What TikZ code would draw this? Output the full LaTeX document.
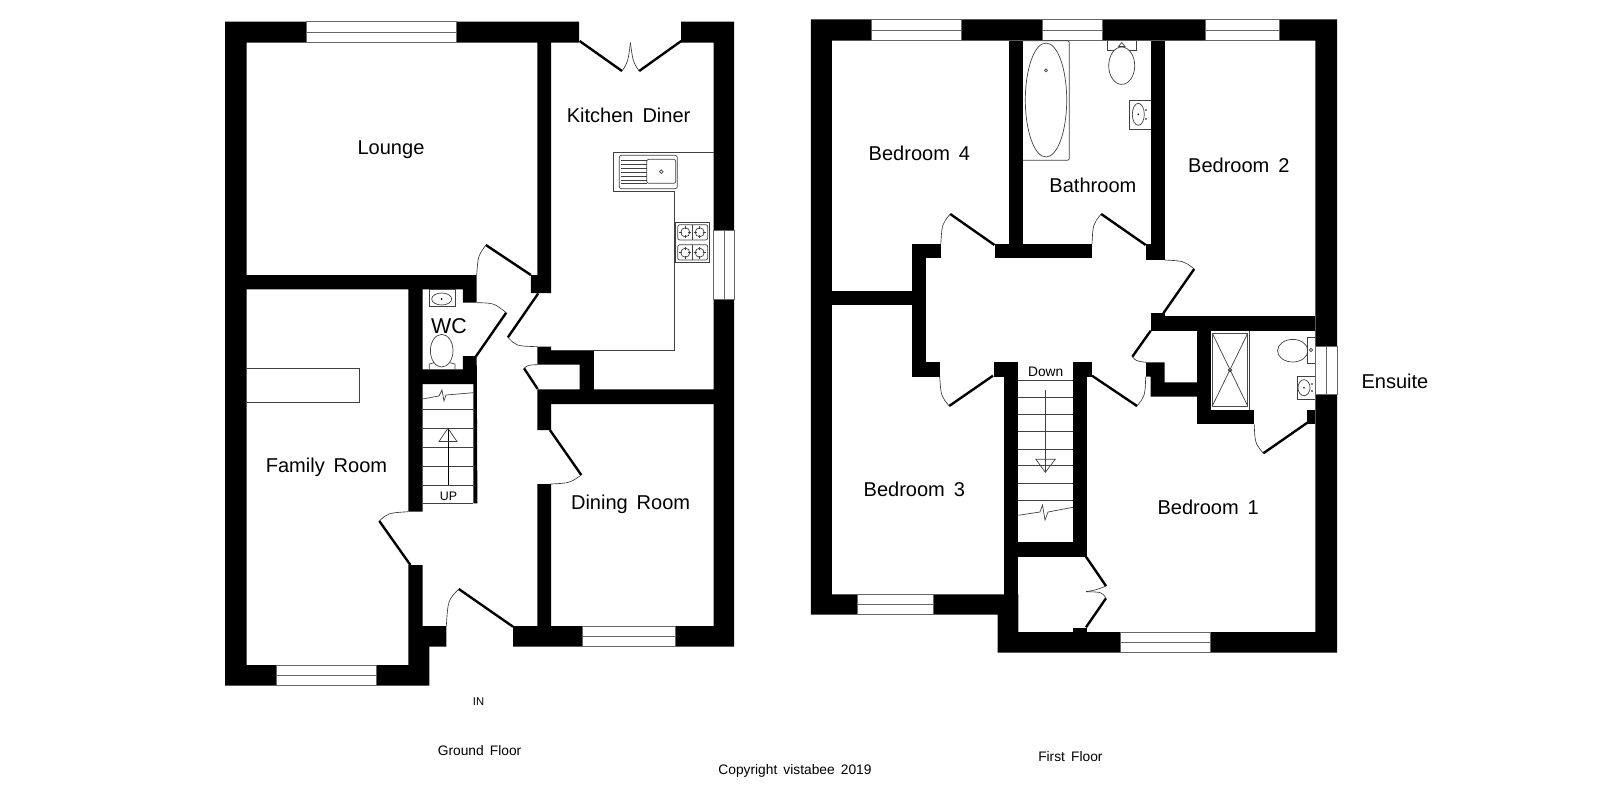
\documentclass[tikz,border=0pt]{standalone}
\usepackage{fontspec}
\setmainfont{Liberation Sans}[WordSpace=1.6]
\tikzset{
  wall/.style={fill=black},
  thinline/.style={draw=black!75, line width=1pt},
  windowbox/.style={fill=white, draw=black!60, line width=1pt},
  doorleaf/.style={draw=black, line width=3.4pt},
  doorswing/.style={draw=black!80, line width=0.9pt},
  roomlabel/.style={inner sep=0pt, font=\fontsize{28.5}{30}\selectfont},
  smalllabel/.style={inner sep=0pt, font=\fontsize{19.6}{22}\selectfont}
}
\begin{document}
\begin{tikzpicture}[x=0.05cm, y=-0.05cm]
            \useasboundingbox (0,0) rectangle (1600,800);

            % Ground floor walls
            \fill[wall] (225.2,21.7) -- (579,21.7) -- (579,42.7) -- (551.2,42.7) -- (551.2,293) -- (530.9,293) -- (530.9,275) -- (537.3,275) -- (537.3,42.7) -- (246.6,42.7) -- (246.6,275) -- (476.7,275) -- (476.7,302.7) -- (462.9,302.7) -- (462.9,289.3) -- (422.6,289.3) -- (422.6,369.3) -- (462.9,369.3) -- (462.9,356) -- (476.7,356) -- (477.4,503.3) -- (473.4,503.3) -- (473.4,384) -- (422.6,384) -- (422.6,511.7) -- (408.4,511.7) -- (408.4,289.3) -- (246.6,289.3) -- (246.6,665) -- (408.4,665) -- (408.4,565) -- (422.6,565) -- (422.6,626) -- (446.3,626) -- (446.3,646.7) -- (429.4,646.7) -- (429.4,685.7) -- (225.2,685.7) -- cycle;
            \fill[wall] (681.2,21.7) -- (734,21.7) -- (734,646.7) -- (513,646.7) -- (513,626) -- (537.3,626) -- (537.3,484) -- (551.2,484) -- (551.2,626) -- (713.7,626) -- (713.7,404) -- (551.2,404) -- (551.2,430) -- (537.3,430) -- (537.3,389.3) -- (579.6,389.3) -- (579.6,364.7) -- (537.3,364.7) -- (537.3,346.7) -- (551.2,346.7) -- (551.2,350.5) -- (593.9,350.5) -- (593.9,389.3) -- (713.7,389.3) -- (713.7,42.7) -- (681.2,42.7) -- cycle;

            % First floor walls
            \fill[wall, even odd rule] (810.9,19.3) -- (1337,19.3) -- (1337,652.7) -- (997.6,652.7) -- (997.6,614.7) -- (810.9,614.7) -- cycle
                (831.9,40.7) -- (1315.3,40.7) -- (1315.3,632) -- (1018.3,632) -- (1018.3,594.3) -- (831.9,594.3) -- cycle;
            \foreach \xa/\ya/\xb/\yb in {1009.2/40.7/1023.2/258.3, 994.5/244/1092/258.3, 1151/40.7/1165/260, 1145.7/244/1165/260,
                912.3/244/940.8/258.3, 912.3/244/926.4/376.7, 912.3/362.3/939.7/376.7, 831.9/291/912.3/305.3,
                993.8/362.3/1018.3/376.7, 1004.3/362.3/1018.3/632, 1073/362.3/1092/376.7, 1073/362.3/1087/556.7,
                1004.3/542/1087/556.7, 1073/627.7/1087/632, 1151/316/1315.3/330.7, 1151/313.3/1165/316,
                1197.3/330/1211.4/424.3, 1197.3/410/1254.2/424.3, 1307.3/410/1315.3/424}
                \fill[wall] (\xa,\ya) rectangle (\xb,\yb);
            \fill[wall] (1146,362.3) -- (1164.5,362.3) -- (1164.5,382.3) -- (1197.3,382.3) -- (1197.3,396.7) -- (1150.7,396.7) -- (1150.7,376.7) -- (1146,376.7) -- cycle;

            % Windows
            \foreach \xa/\ya/\xb/\yb in {306.1/21.7/456.4/42.7, 276/665/376.2/685.7, 582/626/675/646.7,
                870.9/19.3/961.1/40.7, 1042.2/19.3/1102.6/40.7, 1205.4/19.3/1279.5/40.7, 856.9/594.3/933/614.7, 1120.8/632/1210.7/652.7}{
                \draw[windowbox] (\xa,\ya) rectangle (\xb,\yb);
                \draw[windowbox] (\xa,{(\ya+\yb)/2}) -- (\xb,{(\ya+\yb)/2});
            }
            \foreach \xa/\ya/\xb/\yb in {713.7/230.7/734/299.3, 1315.7/346.7/1337/394}{
                \draw[windowbox] (\xa,\ya) rectangle (\xb,\yb);
                \draw[windowbox] ({(\xa+\xb)/2},\ya) -- ({(\xa+\xb)/2},\yb);
            }

            % Door leaves
            \foreach \xa/\ya/\xb/\yb in {530.9/275/485.9/245, 475.7/356.7/506.2/312.7, 538.3/293.3/507.9/337.3, 537.7/389/524/368.3,
                549.9/430/581.3/475, 410.4/565/379.3/521, 513/626.7/458.8/589, 579.6/41/622/71, 681.2/41/639.2/71,
                994.5/245/950.2/214, 1145.7/245/1101.2/214, 1163.3/313.3/1194.2/269, 1150.7/330.7/1132.3/356.7,
                1092/375.7/1137/406, 993/375.7/949.2/406, 1307.3/422.7/1263.3/453.3, 1086/556.7/1106/586, 1086/627.3/1106/598.3}
                \draw[doorleaf] (\xa,\ya) -- (\xb,\yb);

            % Door swings
            \draw[doorswing] (485.9,245) .. controls (478,256) .. (476.7,275);
            \draw[doorswing] (506.2,312.7) .. controls (494,303) .. (476.7,302.7);
            \draw[doorswing] (507.9,337.3) .. controls (516,346) .. (537.3,346.7);
            \draw[doorswing] (524,368.3) .. controls (528,365) .. (537.3,364.7);
            \draw[doorswing] (581.3,475) .. controls (570,483) .. (551.2,484);
            \draw[doorswing] (379.3,521) .. controls (388,513) .. (408.4,511.7);
            \draw[doorswing] (458.8,589) .. controls (448,600) .. (446.3,626);
            \draw[doorswing] (622,71) .. controls (628,62) .. (630.4,42.7);
            \draw[doorswing] (639.2,71) .. controls (633,62) .. (630.4,42.7);
            \draw[doorswing] (950.2,214) .. controls (942,224) .. (940.8,244);
            \draw[doorswing] (1101.2,214) .. controls (1093,224) .. (1092,244);
            \draw[doorswing] (1194.2,269) .. controls (1184,261) .. (1165,260);
            \draw[doorswing] (1132.3,356.7) .. controls (1136,361) .. (1146,362.3);
            \draw[doorswing] (1137,406) .. controls (1145,396) .. (1145.7,376.7);
            \draw[doorswing] (949.2,406) .. controls (941,396) .. (939.7,376.7);
            \draw[doorswing] (1263.3,453.3) .. controls (1255,443) .. (1254.2,424.3);
            \draw[doorswing] (1106,586) .. controls (1096,590) .. (1086,591.7);
            \draw[doorswing] (1106,598.3) .. controls (1102,592) .. (1086,591.7);

            % Stairs, ground floor
            \foreach \ty in {409.3,428.3,447.3,466,485.3,503.3}
                \draw[thinline] (422.6,\ty) -- (473.4,\ty);
            \draw[thinline] (422.6,399) -- (439,396) -- (442,390) -- (444,401) -- (446,395) -- (473.4,392.7);
            \draw[thinline, draw=black] (447.9,485.3) -- (447.9,428.3);
            \draw[thinline] (447.9,428.3) -- (439,441.5) -- (457,441.5) -- cycle;
            \node[inner sep=0pt, font=\fontsize{17.6}{18}\selectfont] (up) at (448.5,496) {UP};

            % Stairs, first floor
            \foreach \ty in {380,397.3,414.3,431.3,449,465.7,483.3,500.7}
                \draw[thinline] (1018.3,\ty) -- (1073,\ty);
            \draw[thinline] (1018.3,515.3) -- (1040,512) -- (1042.5,505) -- (1045,520) -- (1048,512) -- (1073,507.3);
            \draw[thinline] (1045.3,390) -- (1045.3,472.3);
            \draw[thinline] (1045.3,472.3) -- (1035.9,459.3) -- (1055.2,459.3) -- cycle;
            \node[inner sep=0pt, font=\fontsize{19.6}{20}\selectfont] (down) at (1045.7,371.7) {Down};

            % Kitchen units
            \draw[thinline] (713.7,152.3) -- (613.5,152.3) -- (613.5,191.3) -- (674.4,191.3) -- (674.4,350.5) -- (551.2,350.5);
            \draw[thinline, rounded corners=3pt] (619.3,155.3) rectangle (677.3,188.7);
            \draw[thinline, rounded corners=3pt] (646.7,159.3) rectangle (675.7,183.3);
            \foreach \ty in {160,164,168,172,176,180,183}
                \draw[thinline] (620.7,\ty) -- (646.7,\ty);
            \draw[thinline] (661.3,171.7) circle (1.8);
            \draw[thinline] (675.3,222.3) rectangle (709.3,262.3);
            \draw[thinline, rounded corners=3pt] (677.7,224.7) rectangle (707.7,240);
            \draw[thinline, rounded corners=3pt] (677.7,244.7) rectangle (707.7,260);
            \draw[thinline] (692.3,224.7) -- (692.3,240) (692.3,244.7) -- (692.3,260);
            \foreach \bx/\by in {685.3/232.3, 699.7/232.3, 685.3/252.7, 699.7/252.7}{
                \draw[thinline] (\bx,\by) circle (4.5);
                \draw[thinline] (\bx-6,\by) -- (\bx-3,\by) (\bx+3,\by) -- (\bx+6,\by) (\bx,\by-6) -- (\bx,\by-3) (\bx,\by+3) -- (\bx,\by+6);
            }

            % Family room unit
            \draw[thinline] (246.6,368.3) -- (358.9,368.3) -- (358.9,402.3) -- (246.6,402.3);

            % WC fittings
            \draw[thinline] (429,289.3) rectangle (455,306.7);
            \draw[thinline] (441.7,299) ellipse [x radius=10, y radius=6];
            \fill (441.7,299) circle (1);
            \draw[thinline] (441.7,350.7) ellipse [x radius=11.3, y radius=16.3];
            \draw[thinline] (429.3,369.3) -- (429.3,364) -- (434,362.7) (450,362.7) -- (455,364) -- (455,369.3);

            % Bathroom fittings
            \draw[thinline, rounded corners=2pt] (1023.2,40.7) -- (1069.3,40.7) -- (1069.3,160.3) -- (1023.2,160.3);
            \draw[thinline] (1046,100) ellipse [x radius=20.7, y radius=57];
            \draw[thinline] (1046,70.3) circle (1.5);
            \draw[thinline] (1107.3,40.7) -- (1107.3,50) -- (1136.7,50) -- (1136.7,40.7);
            \draw[thinline] (1118.5,46.5) -- (1121.7,42.5) -- (1125,46.5) -- cycle;
            \draw[thinline, fill=white] (1121.7,65.7) ellipse [x radius=13, y radius=18.7];
            \draw[thinline] (1151,100.7) -- (1129.7,100.7) -- (1129.7,129.3) -- (1151,129.3);
            \draw[thinline] (1138.3,114.3) ellipse [x radius=6, y radius=11];
            \foreach \dx/\dy in {1138.3/114.3, 1146/110, 1146/119}
                \fill (\dx,\dy) circle (0.9);

            % Ensuite fittings
            \draw[thinline] (1249.3,330.7) -- (1249.3,410);
            \draw[thinline, draw=black!70] (1212.3,333.3) rectangle (1247.7,406);
            \draw[thinline] (1212.3,333.3) -- (1247.7,406) (1247.7,333.3) -- (1212.3,406);
            \draw[thinline] (1230,370) circle (1.8);
            \draw[thinline] (1292.7,350.7) ellipse [x radius=15.2, y radius=11.3];
            \draw[thinline, fill=white] (1315.3,337.7) -- (1307.7,337.7) -- (1307.7,363.3) -- (1315.3,363.3);
            \draw[thinline] (1311,350) circle (1.6);
            \draw[thinline] (1315.3,376.3) -- (1297,376.3) -- (1297,399.3) -- (1315.3,399.3);
            \draw[thinline] (1304,387.7) ellipse [x radius=6, y radius=8];
            \foreach \dx/\dy in {1304/387.7, 1312/384, 1312/391}
                \fill (\dx,\dy) circle (0.9);

            % Labels
            \node[roomlabel] (lounge) at (391,149.5) {Lounge};
            \node[roomlabel] (kitchen) at (628.6,115) {Kitchen Diner};
            \node[roomlabel, font=\fontsize{30.5}{32}\selectfont] (wc) at (449,326) {WC};
            \node[roomlabel] (family) at (326.5,467.3) {Family Room};
            \node[roomlabel] (dining) at (630.6,504) {Dining Room};
            \node[roomlabel] (bedfour) at (919.4,153.5) {Bedroom 4};
            \node[roomlabel] (bathroom) at (1092.9,185.5) {Bathroom};
            \node[roomlabel] (bedtwo) at (1238.8,165.5) {Bedroom 2};
            \node[roomlabel] (bedthree) at (914.3,489.3) {Bedroom 3};
            \node[roomlabel] (bedone) at (1208.2,507.5) {Bedroom 1};
            \node[roomlabel] (ensuite) at (1394.9,381) {Ensuite};
            \node[smalllabel, font=\fontsize{16}{18}\selectfont] (in) at (478.6,702) {IN};
            \node[smalllabel] (ground) at (479.6,750.5) {Ground Floor};
            \node[smalllabel] (first) at (1070.4,757) {First Floor};
            \node[smalllabel] (copyright) at (795,770.5) {Copyright vistabee 2019};
\end{tikzpicture}
\end{document}
